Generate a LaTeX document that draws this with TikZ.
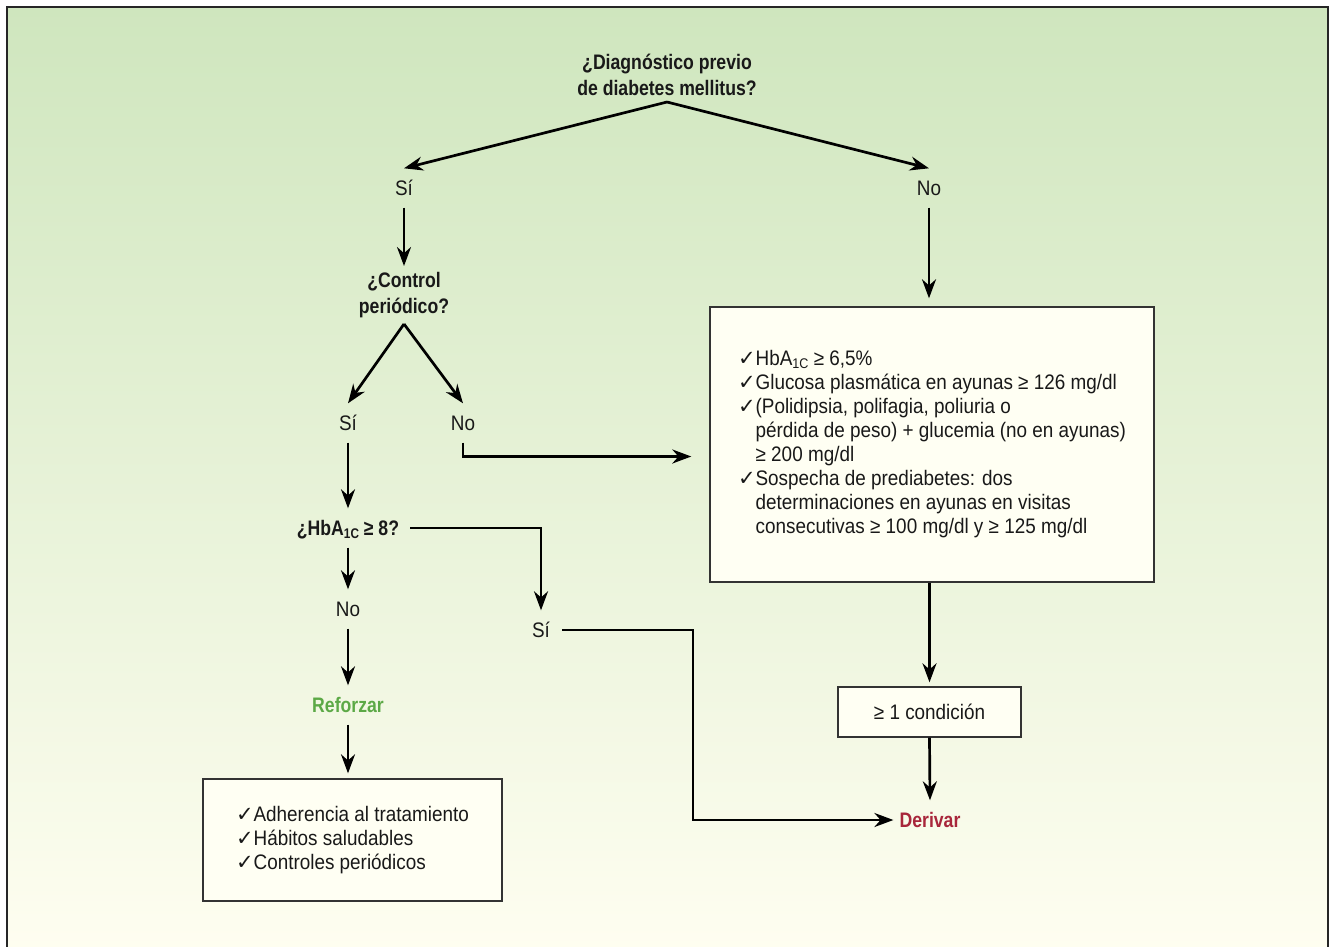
\documentclass[tikz,border=0pt]{standalone}
\usepackage{fontspec}
\setmainfont{Liberation Sans}[FakeStretch=0.9,BoldFeatures={FakeStretch=0.84}]
\newfontfamily\symfont{DejaVu Sans}
\usetikzlibrary{arrows.meta,positioning}
\definecolor{fondoarriba}{HTML}{CFE6BE}
\definecolor{fondoabajo}{HTML}{FFFEF1}
\definecolor{fondocaja}{HTML}{FFFFF3}
\definecolor{rojoderivar}{HTML}{A8263B}
\definecolor{verdereforzar}{HTML}{5CA946}
\newcommand{\chk}{{\symfont\char"2713}}
\newcommand{\sub}[1]{\raisebox{-2.5pt}{\fontsize{14}{14}\selectfont #1}}
\newcommand{\sangria}{\phantom{\chk}}

\begin{document}
\begin{tikzpicture}[x=1pt,y=-1pt,>={Stealth[length=19pt,width=14pt]},
  every node/.style={font=\fontsize{21}{24}\selectfont,text=black!90},
  lbl/.style={inner xsep=6pt,inner ysep=12pt,text height=15pt,text depth=0pt},
  lblbf/.style={lbl,font=\fontsize{21}{24}\selectfont\bfseries},
  preg/.style={font=\fontsize{21}{26}\selectfont\bfseries,align=center,inner sep=6pt},
  caja/.style={draw=black!80,line width=1.4pt,fill=fondocaja,align=left},
  flecha/.style={->,line width=2.7pt}]

  % fondo y marco
  \useasboundingbox (0,0) rectangle (1330,946);
  \clip (0,0) rectangle (1330,946);
  \shade[top color=fondoarriba,bottom color=fondoabajo]
    (7,7) rectangle (1328,960);
  \draw[line width=2pt,black!85] (7,960) |- (1328,7) -- (1328,960);

  % preguntas y respuestas
  \node[preg] (diag) at (667,75) {¿Diagnóstico previo\\de diabetes mellitus?};
  \node[lbl] (si1) at (404,188) {Sí};
  \node[lbl] (no1) at (929,188) {No};
  \node[preg] (control) at (404,295) {¿Control\\periódico?};
  \node[lbl] (si2) at (348,423) {Sí};
  \node[lbl] (no2) at (463,423) {No};
  \node[lblbf,inner xsep=11pt] (hba) at (348,528) {¿HbA\sub{1C} ≥ 8?};
  \node[lbl] (no3) at (348,609) {No};
  \node[lbl,inner xsep=12pt] (si3) at (541,630) {Sí};
  \node[lblbf,text=verdereforzar] (reforzar) at (348,705) {Reforzar};
  \node[lblbf,text=rojoderivar] (derivar) at (930,820) {Derivar};

  % cajas
  \node[caja,minimum width=299pt,minimum height=122pt] (consejos) at (352.5,840)
    {\chk Adherencia al tratamiento\\
     \chk Hábitos saludables\\
     \chk Controles periódicos};
  \node[caja,minimum width=444pt,minimum height=275pt] (criterios) at (932,444.5)
    {\chk HbA\sub{1C} ≥ 6,5\%\\
     \chk Glucosa plasmática en ayunas ≥ 126 mg/dl\\
     \chk (Polidipsia, polifagia, poliuria o\\
     \sangria pérdida de peso) + glucemia (no en ayunas)\\
     \sangria ≥ 200 mg/dl\\
     \chk Sospecha de prediabetes: dos\\
     \sangria determinaciones en ayunas en visitas\\
     \sangria consecutivas ≥ 100 mg/dl y ≥ 125 mg/dl};
  \node[caja,minimum width=183pt,minimum height=50pt,align=center] (condicion)
    at (929.5,712) {≥ 1 condición};

  % flechas
  \draw[flecha] (diag.south) -- (si1.north);
  \draw[flecha] (diag.south) -- (no1.north);
  \draw[flecha] (si1.south) -- (control.north);
  \draw[flecha] (control.south) -- (si2.north);
  \draw[flecha] (control.south) -- (no2.north);
  \draw[flecha] (si2.south) -- (hba.north);
  \draw[flecha] (hba.south) -- (no3.north);
  \draw[flecha] (no3.south) -- (reforzar.north);
  \draw[flecha,shorten >=5pt] (reforzar.south) -- (reforzar.south |- consejos.north);
  \draw[flecha] (hba.east) -| (si3.north);
  \draw[flecha] (si3.east) -- ++(131,0) |- (derivar.west);
  \draw[flecha,shorten >=18pt] (no2.south) |- ([yshift=-12pt]criterios.west);
  \draw[flecha,shorten >=8pt] (no1.south) -- (no1.south |- criterios.north);
  \draw[flecha,shorten >=4pt] (condicion.north |- criterios.south) -- (condicion.north);
  \draw[flecha] (condicion.south) -- (derivar.north);
\end{tikzpicture}
\end{document}
